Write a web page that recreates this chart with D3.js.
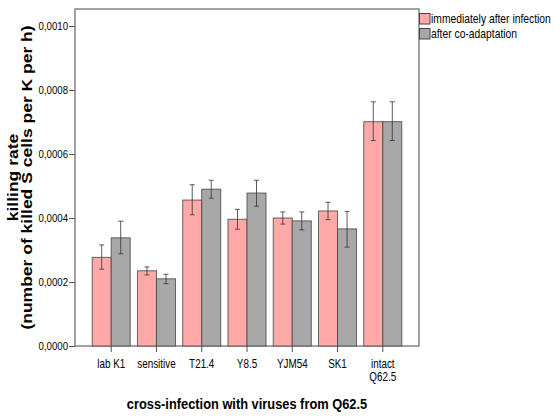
<!DOCTYPE html>
<html>
<head>
<meta charset="utf-8">
<script src="https://cdn.jsdelivr.net/npm/d3@7"></script>
<style>
  body { margin: 0; background: #fff; }
  text { font-family: 'Liberation Sans', Arial, sans-serif; fill: #000; }
</style>
</head>
<body>
<div id="chart"></div>
<script>
const categories = ['lab K1', 'sensitive', 'T21.4', 'Y8.5', 'YJM54', 'SK1', 'intact\nQ62.5'];
const seriesNames = ['immediately after infection', 'after co-adaptation'];
const immediate = [0.000277, 0.000235, 0.000456, 0.000396, 0.000400, 0.000422, 0.000701];
const immediateLow = [0.000240, 0.000222, 0.000410, 0.000365, 0.000381, 0.000395, 0.000642];
const immediateHigh = [0.000316, 0.000247, 0.000504, 0.000427, 0.000419, 0.000449, 0.000763];
const coadapted = [0.000338, 0.000210, 0.000490, 0.000478, 0.000391, 0.000366, 0.000701];
const coadaptedLow = [0.000288, 0.000195, 0.000462, 0.000437, 0.000363, 0.000309, 0.000642];
const coadaptedHigh = [0.000390, 0.000224, 0.000518, 0.000518, 0.000419, 0.000420, 0.000763];
const yTicks = [0, 0.0002, 0.0004, 0.0006, 0.0008, 0.0010];
const colors = ['#ffa8a8', '#a8a8a8'];

const width = 555;
const height = 418;
const plot = { left: 75, right: 419, top: 9, bottom: 346 };
// the picture looks squeezed sideways, so text is scaled horizontally
const squeeze = 0.84;

const rows = [];
categories.forEach((c, i) => {
  rows.push({ cat: c, s: 0, v: immediate[i], lo: immediateLow[i], hi: immediateHigh[i] });
  rows.push({ cat: c, s: 1, v: coadapted[i], lo: coadaptedLow[i], hi: coadaptedHigh[i] });
});

const svg = d3.select('#chart')
  .append('svg')
  .attr('width', width)
  .attr('height', height);

svg.append('rect').attr('width', width).attr('height', height).attr('fill', '#fff');

function narrowText(parent, x, y, k, extra = '') {
  return parent.append('g')
    .attr('transform', `translate(${x},${y}) scale(${k},1) ${extra}`)
    .append('text');
}

const x0 = d3.scaleBand()
  .domain(categories)
  .range([plot.left, plot.right])
  .paddingInner(0.16)
  .paddingOuter(0.38);

const x1 = d3.scaleBand()
  .domain([0, 1])
  .range([0, x0.bandwidth()]);

const y = d3.scaleLinear()
  .domain([0, 0.0002 * (plot.bottom - plot.top) / 64])
  .range([plot.bottom, plot.top]);

// frame
svg.append('rect')
  .attr('x', plot.left)
  .attr('y', plot.top)
  .attr('width', plot.right - plot.left)
  .attr('height', plot.bottom - plot.top)
  .attr('fill', 'none')
  .attr('stroke', '#666')
  .attr('stroke-width', 1.2);

// y axis
const fmt = (d) => d3.format('.4f')(d).replace('.', ',');
const yAxis = svg.append('g')
  .attr('transform', `translate(${plot.left},0)`)
  .call(d3.axisLeft(y).tickValues(yTicks).tickFormat(fmt).tickSize(6).tickPadding(1));
yAxis.select('.domain').remove();
yAxis.selectAll('line').attr('stroke', '#555');
yAxis.selectAll('text')
  .style('font-size', '11.5px')
  .attr('fill', '#000')
  .attr('x', -7 / squeeze)
  .attr('transform', `scale(${squeeze},1)`);

// x axis
const xAxis = svg.append('g')
  .attr('transform', `translate(0,${plot.bottom})`)
  .call(d3.axisBottom(x0).tickSize(6).tickFormat(''));
xAxis.select('.domain').remove();
xAxis.selectAll('line').attr('stroke', '#555');

const catLabels = svg.append('g');
categories.forEach((c) => {
  const t = narrowText(catLabels, x0(c) + x0.bandwidth() / 2, 367.5, 0.79)
    .attr('text-anchor', 'middle')
    .style('font-size', '12.5px');
  c.split('\n').forEach((line, i) => {
    t.append('tspan').attr('x', 0).attr('dy', i === 0 ? 0 : 13.5).text(line);
  });
});

// bars
svg.append('g')
  .selectAll('rect')
  .data(rows)
  .join('rect')
  .attr('x', (d) => x0(d.cat) + x1(d.s))
  .attr('y', (d) => y(d.v))
  .attr('width', x1.bandwidth())
  .attr('height', (d) => y(0) - y(d.v))
  .attr('fill', (d) => colors[d.s])
  .attr('stroke', '#444')
  .attr('stroke-opacity', 0.8)
  .attr('stroke-width', 1);

// error bars
const err = svg.append('g').attr('stroke', '#333').attr('stroke-opacity', 0.8);
rows.forEach((d) => {
  const cx = x0(d.cat) + x1(d.s) + x1.bandwidth() / 2;
  err.append('line').attr('x1', cx).attr('x2', cx).attr('y1', y(d.lo)).attr('y2', y(d.hi));
  [d.lo, d.hi].forEach((v) => {
    err.append('line').attr('x1', cx - 2.5).attr('x2', cx + 2.5).attr('y1', y(v)).attr('y2', y(v));
  });
});

// legend
const legend = svg.append('g');
seriesNames.forEach((name, i) => {
  legend.append('rect')
    .attr('x', 419.5)
    .attr('y', 13.5 + i * 15)
    .attr('width', 10.5)
    .attr('height', 10.5)
    .attr('fill', colors[i])
    .attr('stroke', '#444');
  narrowText(legend, 431, 23 + i * 15, 0.86)
    .style('font-size', '12px')
    .text(name);
});

// axis titles
narrowText(svg, (plot.left + plot.right) / 2, 408.5, 0.856)
  .attr('text-anchor', 'middle')
  .style('font-size', '15px')
  .style('font-weight', 'bold')
  .text('cross-infection with viruses from Q62.5');

const yTitle = narrowText(svg, 18, (plot.top + plot.bottom) / 2, 0.85, 'rotate(-90)')
  .attr('text-anchor', 'middle')
  .style('font-size', '17.5px')
  .style('font-weight', 'bold');
yTitle.append('tspan').attr('x', 0).attr('dy', 0).text('killing rate');
yTitle.append('tspan').attr('x', 0).attr('dy', 13.5 / 0.85).text('(number of killed S cells per K per h)');
</script>
</body>
</html>
